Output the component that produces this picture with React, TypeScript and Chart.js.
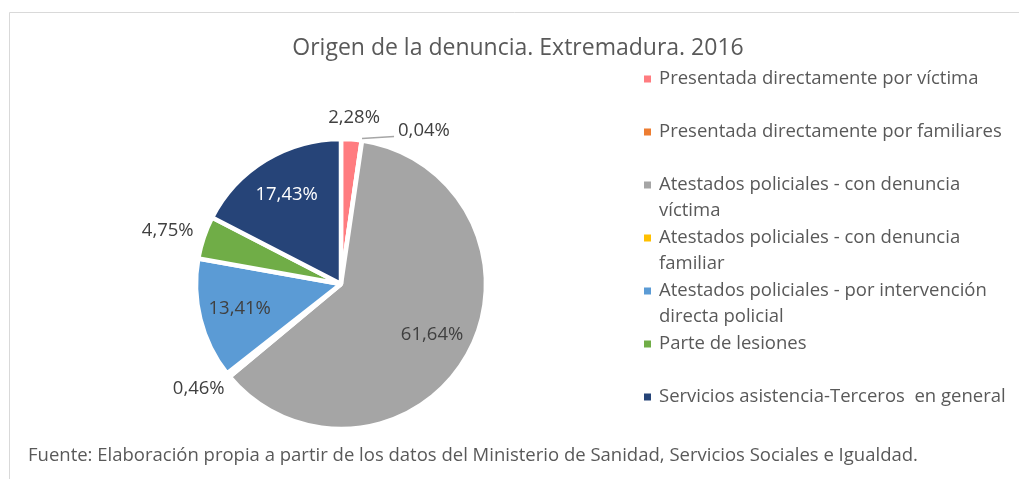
import React, { useEffect, useRef } from "react";
import { Chart, registerables } from "chart.js";

Chart.register(...registerables);

const chartTitle = "Origen de la denuncia. Extremadura. 2016";
const sourceNote =
  "Fuente: Elaboración propia a partir de los datos del Ministerio de Sanidad, Servicios Sociales e Igualdad.";

const categoryLines: string[][] = [
  ["Presentada directamente por víctima"],
  ["Presentada directamente por familiares"],
  ["Atestados policiales - con denuncia", "víctima"],
  ["Atestados policiales - con denuncia", "familiar"],
  ["Atestados policiales - por intervención", "directa policial"],
  ["Parte de lesiones"],
  ["Servicios asistencia-Terceros  en general"],
];
const categories = categoryLines.map((l) => l.join(" "));
const values = [2.28, 0.04, 61.64, 0.46, 13.41, 4.75, 17.43];
const sliceColors = ["#FF7C80", "#ED7D31", "#A5A5A5", "#FFC000", "#5B9BD5", "#70AD47", "#264478"];
const labelTextColors = ["#404040", "#404040", "#404040", "#404040", "#404040", "#404040", "#FFFFFF"];

const FONT = "'Open Sans', 'Noto Sans', sans-serif";
const fmt = (v: number) => v.toFixed(2).replace(".", ",") + "%";

const framePlugin = {
  id: "frame",
  beforeDraw(chart: any) {
    const ctx = chart.ctx;
    const W = chart.width;
    const H = chart.height;
    ctx.save();
    ctx.fillStyle = "#FFFFFF";
    ctx.fillRect(0, 0, W, H);
    ctx.strokeStyle = "#D9D9D9";
    ctx.lineWidth = 1;
    ctx.beginPath();
    ctx.moveTo(9.5, H);
    ctx.lineTo(9.5, 12.5);
    ctx.lineTo(W, 12.5);
    ctx.stroke();
    // title
    ctx.fillStyle = "#595959";
    ctx.font = `23px ${FONT}`;
    ctx.textAlign = "center";
    ctx.textBaseline = "middle";
    ctx.fillText(chartTitle, 518, 48);
    // source
    ctx.font = `18.5px ${FONT}`;
    ctx.textAlign = "left";
    ctx.fillText(sourceNote, 28, 456);
    ctx.restore();
  },
};

const sliceLabelPlugin = {
  id: "sliceLabels",
  afterDatasetsDraw(chart: any) {
    const ctx = chart.ctx;
    const meta = chart.getDatasetMeta(0);
    ctx.save();
    ctx.font = `18.5px ${FONT}`;
    ctx.textBaseline = "middle";
    meta.data.forEach((arc: any, i: number) => {
      const { x, y, startAngle, endAngle, outerRadius } = arc.getProps(
        ["x", "y", "startAngle", "endAngle", "outerRadius"],
        true
      );
      const mid = (startAngle + endAngle) / 2;
      const c = Math.cos(mid);
      const s = Math.sin(mid);
      const v = values[i];
      const text = fmt(v);
      const w = ctx.measureText(text).width;
      const h = 20;
      ctx.fillStyle = labelTextColors[i];
      if (v >= 10) {
        ctx.textAlign = "center";
        ctx.fillText(text, x + outerRadius * 0.72 * c, y + outerRadius * 0.72 * s);
      } else if (v < 0.1) {
        const ex = x + (outerRadius + 1) * c;
        const ey = y + (outerRadius + 1) * s;
        ctx.strokeStyle = "#A6A6A6";
        ctx.lineWidth = 1.5;
        ctx.beginPath();
        ctx.moveTo(ex, ey - 1);
        ctx.lineTo(ex + 32, ey - 3);
        ctx.stroke();
        ctx.textAlign = "left";
        ctx.fillText(text, ex + 36, ey - 9);
      } else {
        const pad = 12;
        ctx.textAlign = "center";
        const px = x + (outerRadius + pad) * c + (c * w) / 2;
        const py = y + (outerRadius + pad) * s + (s * h) / 2;
        ctx.fillText(text, px, py);
      }
    });
    ctx.restore();
  },
};

const legendPlugin = {
  id: "sideLegend",
  afterDraw(chart: any) {
    const ctx = chart.ctx;
    ctx.save();
    ctx.font = `18.5px ${FONT}`;
    ctx.textBaseline = "middle";
    ctx.textAlign = "left";
    categoryLines.forEach((lines, i) => {
      const y0 = 79 + i * 53;
      ctx.fillStyle = sliceColors[i];
      ctx.fillRect(644, y0 - 3.5, 7, 7);
      ctx.fillStyle = "#595959";
      lines.forEach((line, j) => ctx.fillText(line, 659, y0 + j * 26));
    });
    ctx.restore();
  },
};

export default function App() {
  const ref = useRef<HTMLCanvasElement | null>(null);
  useEffect(() => {
    if (!ref.current) return;
    const chart = new Chart(ref.current, {
      type: "pie",
      data: {
        labels: categories,
        datasets: [
          {
            data: values,
            backgroundColor: sliceColors,
            borderColor: "#FFFFFF",
            borderWidth: 4.5,
          },
        ],
      },
      options: {
        animation: false,
        responsive: false,
        devicePixelRatio: 1,
        radius: 145,
        layout: { padding: { left: 197, right: 534, top: 140, bottom: 51 } },
        plugins: {
          legend: { display: false },
          tooltip: { enabled: false },
          title: { display: false },
        },
      } as any,
      plugins: [framePlugin, sliceLabelPlugin, legendPlugin],
    });
    return () => chart.destroy();
  }, []);
  return (
    <div style={{ position: "absolute", left: 0, top: 0, width: 1019, height: 479 }}>
      <canvas ref={ref} width={1019} height={479} />
    </div>
  );
}
